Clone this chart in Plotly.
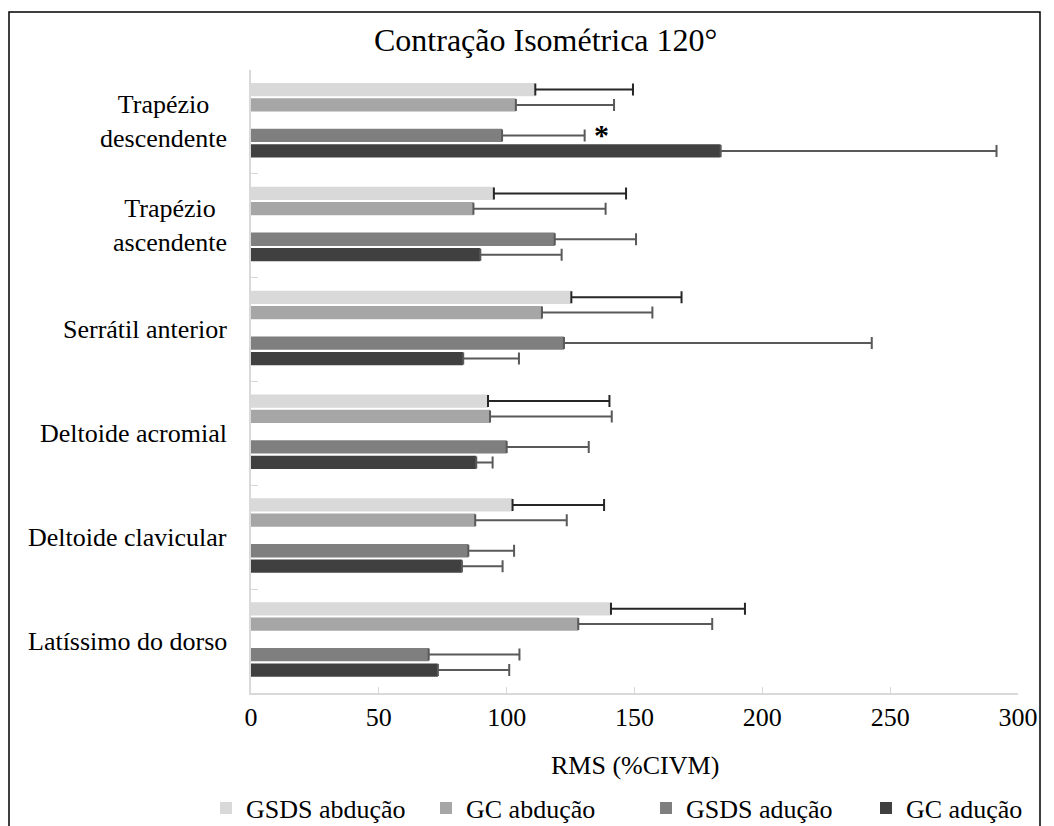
import plotly.graph_objects as go

categories = ["Trapézio descendente", "Trapézio ascendente", "Serrátil anterior",
              "Deltoide acromial", "Deltoide clavicular", "Latíssimo do dorso"]
category_labels = ["Trapézio<br>descendente", "Trapézio<br>ascendente", "Serrátil anterior",
                   "Deltoide acromial", "Deltoide clavicular", "Latíssimo do dorso"]

series_names = ["GSDS abdução", "GC abdução", "GSDS adução", "GC adução"]

gsds_abd = [111.2, 95.0, 125.3, 92.7, 102.3, 140.8]
gsds_abd_err = [38.2, 51.7, 43.1, 47.5, 35.8, 52.4]
gc_abd = [103.6, 87.0, 113.8, 93.5, 87.7, 128.0]
gc_abd_err = [38.4, 51.7, 43.2, 47.6, 35.8, 52.4]
gsds_adu = [98.2, 118.8, 122.4, 100.0, 85.0, 69.5]
gsds_adu_err = [32.3, 31.8, 120.4, 32.1, 17.9, 35.5]
gc_adu = [183.7, 89.7, 83.0, 88.1, 82.5, 73.1]
gc_adu_err = [107.9, 31.8, 21.8, 6.4, 15.9, 27.9]

values = [gsds_abd, gc_abd, gsds_adu, gc_adu]
errors = [gsds_abd_err, gc_abd_err, gsds_adu_err, gc_adu_err]
colors = ["#d9d9d9", "#a6a6a6", "#7f7f7f", "#404040"]
err_colors = ["#262626", "#595959", "#595959", "#595959"]
offsets = [-0.375, -0.228, 0.066, 0.215]
bar_width = 0.128

FONT = "Times New Roman, Liberation Serif, serif"

fig = go.Figure()
for name, v, e, c, ec, off in zip(series_names, values, errors, colors, err_colors, offsets):
    fig.add_trace(go.Bar(
        name=name, y=categories, x=v, orientation="h",
        offset=off, width=bar_width,
        marker=dict(color=c, line=dict(width=0)),
        error_x=dict(type="data", array=e, symmetric=False, arrayminus=[0] * len(e),
                     color=ec, thickness=2, width=6),
    ))

# plot-area geometry in pixels
L, R, T, B = 251, 1018, 70, 693
def px(xp):
    return (xp - L) / (R - L)
def py(yp):
    return (B - yp) / (B - T)

annotations = []
for cat, lab in zip(categories, category_labels):
    annotations.append(dict(
        x=px(229), xref="paper", y=cat, yref="y", text=lab, showarrow=False,
        xanchor="right", yanchor="middle", align="center",
        font=dict(family=FONT, size=26, color="black")))

annotations.append(dict(
    x=px(545), xref="paper", y=py(40), yref="paper", text="Contração Isométrica 120°",
    showarrow=False, xanchor="center", yanchor="middle",
    font=dict(family=FONT, size=32, color="black")))

annotations.append(dict(
    x=137, xref="x", y=0.13, yref="y", text="<b>*</b>", showarrow=False,
    xanchor="center", yanchor="middle", yshift=1,
    font=dict(family=FONT, size=30, color="black")))

annotations.append(dict(
    x=0.5, xref="paper", y=py(766), yref="paper", text="RMS (%CIVM)", showarrow=False,
    xanchor="center", yanchor="middle",
    font=dict(family=FONT, size=26, color="black")))

fig.update_layout(
    width=1054, height=826,
    margin=dict(l=L, r=1054 - R, t=T, b=826 - B, autoexpand=False),
    paper_bgcolor="white", plot_bgcolor="white",
    barmode="group",
    showlegend=True,
    legend=dict(orientation="h", x=px(206), xanchor="left", y=py(808), yanchor="middle",
                font=dict(family=FONT, size=26, color="black"),
                entrywidth=175, traceorder="normal", itemclick=False,
                bgcolor="rgba(0,0,0,0)"),
    font=dict(family=FONT, size=26, color="black"),
    annotations=annotations,
    shapes=[dict(type="rect", xref="paper", yref="paper",
                 x0=px(9), x1=px(1040), y0=py(900), y1=py(12),
                 line=dict(color="black", width=1.5), fillcolor="rgba(0,0,0,0)", layer="below")],
)

fig.update_xaxes(range=[0, 300], dtick=50, tick0=0, showgrid=False, zeroline=False,
                 showline=True, linecolor="#d9d9d9", linewidth=1.5,
                 ticks="inside", ticklen=6, tickcolor="#d9d9d9", tickwidth=1,
                 ticklabelstandoff=0,
                 tickfont=dict(family=FONT, size=26, color="black"))
fig.update_yaxes(categoryorder="array", categoryarray=categories, range=[5.5, -0.5],
                 showgrid=False, zeroline=False, showline=True, linecolor="#d9d9d9",
                 linewidth=1.5, ticks="inside", tickson="boundaries", ticklen=7,
                 tickcolor="#d9d9d9", showticklabels=False)

fig.write_html("out.html")
